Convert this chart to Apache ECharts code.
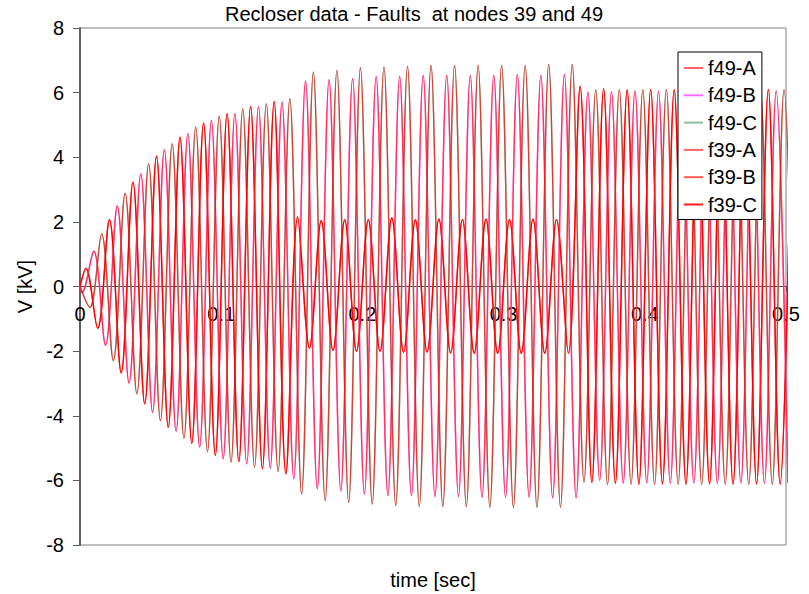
<!DOCTYPE html>
<html>
<head>
<meta charset="utf-8">
<script src="https://cdn.jsdelivr.net/npm/echarts@6/dist/echarts.min.js"></script>
<style>
  html, body { margin: 0; padding: 0; background: #fff; }
  #chart { width: 809px; height: 594px; }
</style>
</head>
<body>
<div id="chart"></div>
<script>
// Phase voltages (kV): value at t = 0, then every crest and trough in time order.
// Successive crests/troughs are half a 60 Hz cycle apart.
const phaseA = [0,
  0.56, -1.29, 2.07, -2.67, 3.23, -3.63, 4.03, -4.36, 4.62, -4.85,
  5.06, -5.23, 5.35, -5.42, 5.57, -5.64, 5.73, -5.80,
  2.15, -1.90, 2.04, -1.98, 2.06, -2.00, 2.06, -2.00, 2.12, -2.03,
  2.06, -2.03, 2.08, -2.05, 2.07, -2.06, 2.08, -2.06, 2.07, -2.06,
  2.08, -2.06, 2.07, -2.06,
  6.19, -6.06, 6.12, -6.09, 6.09, -6.12, 6.10, -6.11, 6.09, -6.12,
  6.10, -6.11, 6.10, -6.12, 6.09, -6.11, 6.10, -6.12, 6.10];

const phaseB = [0,
  -0.19, 1.09, -1.82, 2.49, -2.99, 3.48, -3.89, 4.23, -4.48, 4.73,
  -4.97, 5.14, -5.33, 5.35, -5.49, 5.57, -5.62, 5.71,
  -5.95, 6.36, -6.26, 6.40, -6.32, 6.43, -6.42, 6.49, -6.47, 6.50,
  -6.47, 6.53, -6.50, 6.53, -6.50, 6.53, -6.52, 6.53, -6.52, 6.56,
  -6.52, 6.53, -6.54, 6.56,
  -6.54, 6.01, -6.00, 6.03, -6.08, 6.05, -6.08, 6.04, -6.09, 6.05,
  -6.08, 6.04, -6.09, 6.05, -6.08, 6.04, -6.09, 6.05, -6.08];

const phaseC = [0,
  -0.65, 1.63, -2.29, 2.89, -3.32, 3.80, -4.15, 4.42, -4.70, 4.93,
  -5.11, 5.27, -5.44, 5.50, -5.59, 5.66, -5.73, 5.81,
  -6.42, 6.63, -6.63, 6.69, -6.68, 6.77, -6.73, 6.79, -6.78, 6.81,
  -6.81, 6.84, -6.81, 6.84, -6.81, 6.84, -6.83, 6.84, -6.83, 6.84,
  -6.83, 6.87, -6.83, 6.87,
  -6.06, 6.09, -6.13, 6.10, -6.12, 6.09, -6.13, 6.10, -6.12, 6.09,
  -6.13, 6.10, -6.12, 6.09, -6.13, 6.10, -6.12, 6.09, -6.12];

// Supply frequency and the instant (in cycles) of each phase's first crest/trough
const FREQ = 60;
const firstPeakCycle = { A: 3 / 12, B: 1 / 12, C: 5 / 12 };

const seriesNames = ['f49-A', 'f49-B', 'f49-C', 'f39-A', 'f39-B', 'f39-C'];
const xTicks = [0, 0.1, 0.2, 0.3, 0.4, 0.5];
const yTicks = [-8, -6, -4, -2, 0, 2, 4, 6, 8];

const FONT = 'Liberation Sans, Arial, sans-serif';

// plot box in pixels
const GRID = { left: 80, right: 23, top: 28, bottom: 49 };
const PLOT_H = 594 - GRID.top - GRID.bottom;
// the time axis crosses the voltage axis at 0 kV, half way up the plot
const X_AXIS_LIFT = PLOT_H * (0 - yTicks[0]) / (yTicks[yTicks.length - 1] - yTicks[0]);

function toPoints(values, firstCycle) {
  return values.map((v, i) =>
    [i === 0 ? 0 : (firstCycle + 0.5 * (i - 1)) / FREQ, v]);
}

const waves = {
  A: toPoints(phaseA, firstPeakCycle.A),
  B: toPoints(phaseB, firstPeakCycle.B),
  C: toPoints(phaseC, firstPeakCycle.C)
};

// line colours; the f39 traces sit on top of the f49 traces
const lineLook = {
  'f49-A': { color: '#ff5a5a', opacity: 1 },
  'f49-B': { color: '#ff66ff', opacity: 1 },
  'f49-C': { color: '#80bf9f', opacity: 1 },
  'f39-A': { color: '#ff0000', opacity: 1 },
  'f39-B': { color: '#ff2020', opacity: 0.72 },
  'f39-C': { color: '#ff0000', opacity: 0.66 }
};
const legendLook = {
  'f49-A': '#ff6464', 'f49-B': '#ff6cff', 'f49-C': '#8cbfa4',
  'f39-A': '#ff6464', 'f39-B': '#ff5a5a', 'f39-C': '#ff1a1a'
};

const series = seriesNames.map(name => ({
  name: name,
  type: 'line',
  data: waves[name.slice(-1)],
  smooth: 0.36,
  symbol: 'none',
  clip: true,
  lineStyle: { color: lineLook[name].color, width: 1.4, opacity: lineLook[name].opacity },
  itemStyle: { color: lineLook[name].color },
  emphasis: { disabled: true }
}));

const chart = echarts.init(document.getElementById('chart'), null, { renderer: 'svg' });
chart.setOption({
  animation: false,
  backgroundColor: '#ffffff',
  title: {
    text: 'Recloser data - Faults  at nodes 39 and 49',
    left: 225, top: 4, padding: 0,
    textStyle: { fontSize: 20, fontWeight: 'normal', color: '#000', fontFamily: FONT }
  },
  legend: {
    orient: 'vertical',
    left: 678, top: 52,
    padding: [6, 5, 5, 6],
    icon: 'rect',
    itemWidth: 19, itemHeight: 2, itemGap: 7.3,
    backgroundColor: '#fff',
    borderColor: '#000', borderWidth: 1, borderRadius: 0,
    textStyle: { fontSize: 20, lineHeight: 20, color: '#000', fontFamily: FONT },
    data: seriesNames.map(n => ({ name: n, itemStyle: { color: legendLook[n], opacity: 1, borderWidth: 0 } }))
  },
  grid: {
    left: GRID.left, right: GRID.right, top: GRID.top, bottom: GRID.bottom,
    outerBoundsMode: 'none',
    containLabel: false,
    show: true, borderColor: '#808080', borderWidth: 1
  },
  xAxis: {
    type: 'value', min: xTicks[0], max: xTicks[xTicks.length - 1], interval: 0.1,
    position: 'bottom',
    offset: -X_AXIS_LIFT,
    axisLine: { onZero: false, lineStyle: { color: '#505050', width: 1.2 } },
    axisTick: { show: true, length: 5, lineStyle: { color: '#505050' } },
    axisLabel: { fontSize: 20, color: '#000', margin: 17, fontFamily: FONT, showMaxLabel: true },
    splitLine: { show: false },
    name: 'time [sec]', nameLocation: 'middle', nameGap: 283,
    nameTextStyle: { fontSize: 20, color: '#000', fontFamily: FONT }
  },
  yAxis: {
    type: 'value', min: yTicks[0], max: yTicks[yTicks.length - 1], interval: 2,
    axisLine: { show: true, onZero: false, lineStyle: { color: '#606060', width: 2 } },
    axisTick: { show: true, length: 7, lineStyle: { color: '#606060' } },
    axisLabel: { fontSize: 20, color: '#000', margin: 16, fontFamily: FONT },
    splitLine: { show: false },
    name: 'V [kV]', nameLocation: 'middle', nameGap: 42, nameRotate: 90,
    nameTextStyle: { fontSize: 20, color: '#000', fontFamily: FONT }
  },
  series: series
});
</script>
</body>
</html>
